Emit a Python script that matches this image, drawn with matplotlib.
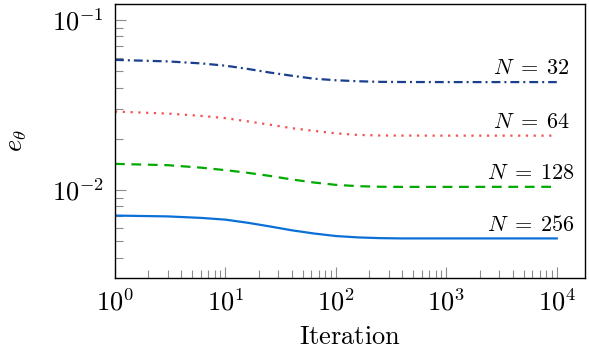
import numpy as np
import matplotlib
matplotlib.use("Agg")
import matplotlib.pyplot as plt
from matplotlib.ticker import LogLocator, FuncFormatter, NullFormatter

plt.rcParams['mathtext.fontset'] = 'cm'
plt.rcParams['font.family'] = 'serif'
plt.rcParams['font.serif'] = ['DejaVu Serif']

iterations = [1, 3, 6, 10, 16, 25, 40, 63, 100, 160, 250, 400, 1000, 10000]
err_n32 = [0.05815, 0.05698, 0.05546, 0.05377, 0.05142, 0.04904, 0.04690,
           0.04509, 0.04413, 0.04354, 0.04319, 0.04310, 0.04305, 0.04305]
err_n64 = [0.02888, 0.02811, 0.02725, 0.02641, 0.02529, 0.02419, 0.02306,
           0.02224, 0.02150, 0.02103, 0.02089, 0.02086, 0.02084, 0.02084]
err_n128 = [0.01422, 0.01397, 0.01351, 0.01306, 0.01259, 0.01209, 0.01151,
            0.01105, 0.01070, 0.01051, 0.01043, 0.01041, 0.01041, 0.01042]
err_n256 = [0.00706, 0.00698, 0.00684, 0.00668, 0.00640, 0.00610, 0.00578,
            0.00554, 0.00535, 0.00525, 0.00520, 0.00518, 0.00518, 0.00518]
labels = [r'$N\;=\;32$', r'$N\;=\;64$', r'$N\;=\;128$', r'$N\;=\;256$']

fig = plt.figure(figsize=(5.89, 3.59), dpi=100)
ax = fig.add_axes([0.1952, 0.2256, 0.798, 0.7633])

lw = 1.6
ax.plot(iterations, err_n32, color='#1b3f8f', lw=lw, linestyle=(0, (4.0, 1.8, 0.9, 1.8)))
ax.plot(iterations, err_n64, color='#f25252', lw=lw, linestyle=(0, (1.0, 2.5)))
ax.plot(iterations, err_n128, color='#00aa00', lw=lw, linestyle=(0, (4.4, 3.0)))
ax.plot(iterations, err_n256, color='#0b6fd8', lw=lw, linestyle='-')

for series, lab in zip([err_n32, err_n64, err_n128, err_n256], labels):
    ax.annotate(lab, (5900, series[-1]), xytext=(0, 2), textcoords='offset points',
                ha='center', va='bottom', fontsize=16)

ax.set_xscale('log')
ax.set_yscale('log')
ax.set_xlim(1, 1.8e4)
ax.set_ylim(3.03e-3, 0.124)

fmt = FuncFormatter(lambda v, p: r'$10^{%d}$' % int(round(np.log10(v))))
ax.xaxis.set_major_locator(LogLocator(base=10, numticks=10))
ax.yaxis.set_major_locator(LogLocator(base=10, numticks=10))
ax.xaxis.set_major_formatter(fmt)
ax.yaxis.set_major_formatter(fmt)
ax.xaxis.set_minor_locator(LogLocator(base=10, subs=np.arange(2, 10), numticks=20))
ax.yaxis.set_minor_locator(LogLocator(base=10, subs=np.arange(2, 10), numticks=20))
ax.xaxis.set_minor_formatter(NullFormatter())
ax.yaxis.set_minor_formatter(NullFormatter())

ax.tick_params(which='both', direction='in', color='#8c8c8c', width=0.8, labelsize=19)
ax.tick_params(which='major', length=8, pad=8)
ax.tick_params(which='minor', length=5.5)
ax.tick_params(top=False, right=False)

for s in ax.spines.values():
    s.set_linewidth(1.0)

ax.set_xlabel(r'$\mathrm{Iteration}$', fontsize=19, labelpad=6)
ax.set_ylabel(r'$e_\theta$', fontsize=19, labelpad=16)

fig.savefig('out.png', dpi=100)
